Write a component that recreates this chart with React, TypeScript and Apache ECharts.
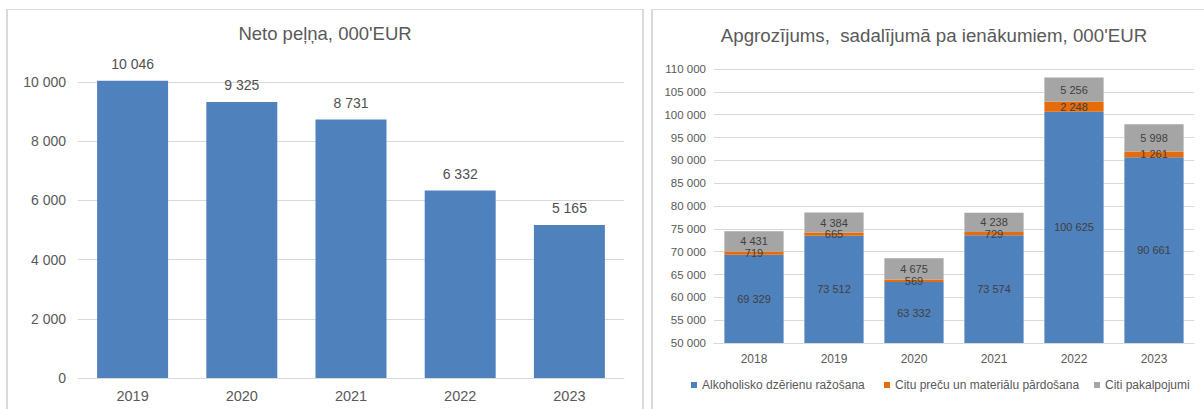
import React, { useEffect, useRef } from "react";
import * as echarts from "echarts";

const profitYears = ["2019", "2020", "2021", "2022", "2023"];
const profitValues = [10046, 9325, 8731, 6332, 5165];

const turnoverYears = ["2018", "2019", "2020", "2021", "2022", "2023"];
const alcoholProduction = [69329, 73512, 63332, 73574, 100625, 90661];
const goodsSales = [719, 665, 569, 729, 2248, 1261];
const otherServices = [4431, 4384, 4675, 4238, 5256, 5998];

const seriesNames = [
  "Alkoholisko dzērienu ražošana",
  "Citu preču un materiālu pārdošana",
  "Citi pakalpojumi",
];

const leftTitle = "Neto peļņa, 000'EUR";
const rightTitle = "Apgrozījums,  sadalījumā pa ienākumiem, 000'EUR";

const FONT = "'Liberation Sans', Arial, sans-serif";
const TXT = "#595959";
const LBL = "#404040";
const GRID = "#d9d9d9";

const fmt = (v: number) =>
  String(Math.round(v)).replace(/\B(?=(\d{3})+(?!\d))/g, " ");

export default function App() {
  const ref = useRef<HTMLDivElement>(null);
  useEffect(() => {
    document.body.style.margin = "0";
    if (!ref.current) return;
    const chart = echarts.init(ref.current, null, { renderer: "svg" });
    const stackLabel = {
      show: true,
      position: "inside",
      color: LBL,
      fontSize: 11,
      fontFamily: FONT,
      formatter: (p: any) => fmt(p.value),
    };
    const legendLefts = [691, 884, 1094];
    chart.setOption({
      animation: false,
      backgroundColor: "#ffffff",
      textStyle: { fontFamily: FONT },
      title: [
        {
          text: leftTitle,
          left: 325,
          top: 24,
          textAlign: "center",
          padding: 0,
          textStyle: { fontSize: 18.5, fontWeight: "normal", color: TXT, fontFamily: FONT },
        },
        {
          text: rightTitle,
          left: 934,
          top: 26,
          textAlign: "center",
          padding: 0,
          textStyle: { fontSize: 18.7, fontWeight: "normal", color: TXT, fontFamily: FONT },
        },
      ],
      graphic: [
        { type: "line", shape: { x1: 7, y1: 9.5, x2: 643, y2: 9.5 }, style: { stroke: GRID, lineWidth: 1 } },
        { type: "line", shape: { x1: 7, y1: 9, x2: 7, y2: 409 }, style: { stroke: GRID, lineWidth: 2 } },
        { type: "line", shape: { x1: 643, y1: 9, x2: 643, y2: 409 }, style: { stroke: GRID, lineWidth: 2 } },
        { type: "line", shape: { x1: 652, y1: 9.5, x2: 1204, y2: 9.5 }, style: { stroke: GRID, lineWidth: 1 } },
        { type: "line", shape: { x1: 652, y1: 9, x2: 652, y2: 409 }, style: { stroke: GRID, lineWidth: 2 } },
      ],
      legend: seriesNames.map((name, i) => ({
        data: [name],
        left: legendLefts[i],
        top: 379,
        itemWidth: 6,
        itemHeight: 6,
        icon: "rect",
        padding: 0,
        selectedMode: false,
        textStyle: { fontSize: 12, color: TXT, fontFamily: FONT },
      })),
      grid: [
        { left: 78, right: 580, top: 82, bottom: 31, containLabel: false },
        { left: 714, right: 10, top: 69, bottom: 66, containLabel: false },
      ],
      xAxis: [
        {
          type: "category",
          gridIndex: 0,
          data: profitYears,
          axisLine: { lineStyle: { color: GRID, width: 1 } },
          axisTick: { show: false },
          axisLabel: { color: TXT, fontSize: 14.5, margin: 10, fontFamily: FONT },
        },
        {
          type: "category",
          gridIndex: 1,
          data: turnoverYears,
          axisLine: { lineStyle: { color: GRID, width: 1 } },
          axisTick: { show: false },
          axisLabel: { color: TXT, fontSize: 12, margin: 10, fontFamily: FONT },
        },
      ],
      yAxis: [
        {
          type: "value",
          gridIndex: 0,
          min: 0,
          max: 10000,
          interval: 2000,
          axisLine: { show: false },
          axisTick: { show: false },
          splitLine: { lineStyle: { color: GRID, width: 1 } },
          axisLabel: { color: TXT, fontSize: 14, margin: 12, fontFamily: FONT, formatter: (v: number) => fmt(v) },
        },
        {
          type: "value",
          gridIndex: 1,
          min: 50000,
          max: 110000,
          interval: 5000,
          axisLine: { show: false },
          axisTick: { show: false },
          splitLine: { lineStyle: { color: GRID, width: 1 } },
          axisLabel: { color: TXT, fontSize: 11.5, margin: 8, fontFamily: FONT, formatter: (v: number) => fmt(v) },
        },
      ],
      series: [
        {
          type: "bar",
          name: "Neto peļņa",
          xAxisIndex: 0,
          yAxisIndex: 0,
          data: profitValues,
          barCategoryGap: "35%",
          clip: false,
          itemStyle: { color: "#4F81BD" },
          label: {
            show: true,
            position: "top",
            distance: 10,
            color: "#505050",
            fontSize: 14,
            fontFamily: FONT,
            formatter: (p: any) => fmt(p.value),
          },
        },
        {
          type: "bar",
          name: seriesNames[0],
          xAxisIndex: 1,
          yAxisIndex: 1,
          stack: "t",
          data: alcoholProduction,
          barCategoryGap: "26%",
          itemStyle: { color: "#4F81BD" },
          label: stackLabel,
        },
        {
          type: "bar",
          name: seriesNames[1],
          xAxisIndex: 1,
          yAxisIndex: 1,
          stack: "t",
          data: goodsSales,
          barCategoryGap: "26%",
          itemStyle: { color: "#E46C0A" },
          label: stackLabel,
        },
        {
          type: "bar",
          name: seriesNames[2],
          xAxisIndex: 1,
          yAxisIndex: 1,
          stack: "t",
          data: otherServices,
          barCategoryGap: "26%",
          itemStyle: { color: "#A5A5A5" },
          label: stackLabel,
        },
      ],
    });
    return () => chart.dispose();
  }, []);
  return <div ref={ref} style={{ width: 1204, height: 409 }} />;
}
